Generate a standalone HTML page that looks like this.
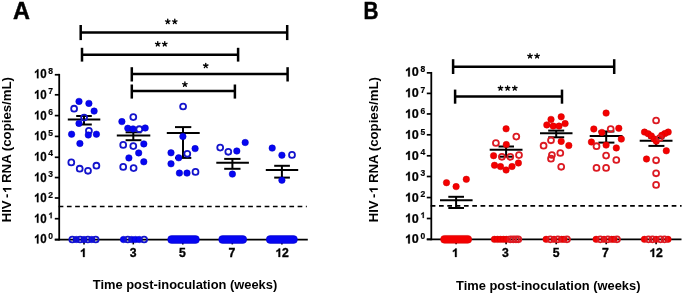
<!DOCTYPE html>
<html><head><meta charset="utf-8"><style>
html,body{margin:0;padding:0;background:#fff;width:685px;height:296px;overflow:hidden;}
svg{display:block;will-change:transform;}
</style></head><body>
<svg width="685" height="296" viewBox="0 0 685 296" font-family='"Liberation Sans", sans-serif' fill="#000">
<rect width="685" height="296" fill="#fff"/>
<text transform="translate(13.0,18.9) scale(0.97,1)" font-size="24.2" font-weight="bold" stroke="#000" stroke-width="0.45">A</text>
<text transform="translate(363.4,18.8) scale(0.87,1)" font-size="23.8" font-weight="bold" stroke="#000" stroke-width="0.5">B</text>
<line x1="59.2" y1="73.85" x2="59.2" y2="240.5" stroke="#000" stroke-width="1.8"/>
<line x1="54.8" y1="239.6" x2="307.8" y2="239.6" stroke="#000" stroke-width="1.8"/>
<line x1="84.0" y1="239.6" x2="84.0" y2="244.4" stroke="#000" stroke-width="1.6"/>
<line x1="133.3" y1="239.6" x2="133.3" y2="244.4" stroke="#000" stroke-width="1.6"/>
<line x1="182.8" y1="239.6" x2="182.8" y2="244.4" stroke="#000" stroke-width="1.6"/>
<line x1="232.3" y1="239.6" x2="232.3" y2="244.4" stroke="#000" stroke-width="1.6"/>
<line x1="281.9" y1="239.6" x2="281.9" y2="244.4" stroke="#000" stroke-width="1.6"/>
<line x1="54.8" y1="74.75" x2="59.2" y2="74.75" stroke="#000" stroke-width="1.7"/>
<path d="M396 0L262 0L262 500C213 455 156 421 90 398L90 518C125 530 163 551 204 582C245 614 273 650 288 688L396 688Z" transform="translate(33.90,78.30) scale(0.01157,-0.01300)" stroke="#000" stroke-width="19.2"/>
<text transform="translate(40.34,78.30) scale(0.89,1)" font-size="13" font-weight="bold" stroke="#000" stroke-width="0.25">0</text>
<text transform="translate(48.35,73.80) scale(1.0,1)" font-size="8.5" font-weight="bold" stroke="#000" stroke-width="0.2">8</text>
<line x1="54.8" y1="94.80" x2="59.2" y2="94.80" stroke="#000" stroke-width="1.7"/>
<path d="M396 0L262 0L262 500C213 455 156 421 90 398L90 518C125 530 163 551 204 582C245 614 273 650 288 688L396 688Z" transform="translate(33.90,98.94) scale(0.01157,-0.01300)" stroke="#000" stroke-width="19.2"/>
<text transform="translate(40.34,98.94) scale(0.89,1)" font-size="13" font-weight="bold" stroke="#000" stroke-width="0.25">0</text>
<text transform="translate(48.35,94.44) scale(1.0,1)" font-size="8.5" font-weight="bold" stroke="#000" stroke-width="0.2">7</text>
<line x1="54.8" y1="115.60" x2="59.2" y2="115.60" stroke="#000" stroke-width="1.7"/>
<path d="M396 0L262 0L262 500C213 455 156 421 90 398L90 518C125 530 163 551 204 582C245 614 273 650 288 688L396 688Z" transform="translate(33.90,119.58) scale(0.01157,-0.01300)" stroke="#000" stroke-width="19.2"/>
<text transform="translate(40.34,119.58) scale(0.89,1)" font-size="13" font-weight="bold" stroke="#000" stroke-width="0.25">0</text>
<text transform="translate(48.35,115.08) scale(1.0,1)" font-size="8.5" font-weight="bold" stroke="#000" stroke-width="0.2">6</text>
<line x1="54.8" y1="136.40" x2="59.2" y2="136.40" stroke="#000" stroke-width="1.7"/>
<path d="M396 0L262 0L262 500C213 455 156 421 90 398L90 518C125 530 163 551 204 582C245 614 273 650 288 688L396 688Z" transform="translate(33.90,140.22) scale(0.01157,-0.01300)" stroke="#000" stroke-width="19.2"/>
<text transform="translate(40.34,140.22) scale(0.89,1)" font-size="13" font-weight="bold" stroke="#000" stroke-width="0.25">0</text>
<text transform="translate(48.35,135.72) scale(1.0,1)" font-size="8.5" font-weight="bold" stroke="#000" stroke-width="0.2">5</text>
<line x1="54.8" y1="157.30" x2="59.2" y2="157.30" stroke="#000" stroke-width="1.7"/>
<path d="M396 0L262 0L262 500C213 455 156 421 90 398L90 518C125 530 163 551 204 582C245 614 273 650 288 688L396 688Z" transform="translate(33.90,160.86) scale(0.01157,-0.01300)" stroke="#000" stroke-width="19.2"/>
<text transform="translate(40.34,160.86) scale(0.89,1)" font-size="13" font-weight="bold" stroke="#000" stroke-width="0.25">0</text>
<text transform="translate(48.35,156.36) scale(1.0,1)" font-size="8.5" font-weight="bold" stroke="#000" stroke-width="0.2">4</text>
<line x1="54.8" y1="177.55" x2="59.2" y2="177.55" stroke="#000" stroke-width="1.7"/>
<path d="M396 0L262 0L262 500C213 455 156 421 90 398L90 518C125 530 163 551 204 582C245 614 273 650 288 688L396 688Z" transform="translate(33.90,181.50) scale(0.01157,-0.01300)" stroke="#000" stroke-width="19.2"/>
<text transform="translate(40.34,181.50) scale(0.89,1)" font-size="13" font-weight="bold" stroke="#000" stroke-width="0.25">0</text>
<text transform="translate(48.35,177.00) scale(1.0,1)" font-size="8.5" font-weight="bold" stroke="#000" stroke-width="0.2">3</text>
<line x1="54.8" y1="198.00" x2="59.2" y2="198.00" stroke="#000" stroke-width="1.7"/>
<path d="M396 0L262 0L262 500C213 455 156 421 90 398L90 518C125 530 163 551 204 582C245 614 273 650 288 688L396 688Z" transform="translate(33.90,202.14) scale(0.01157,-0.01300)" stroke="#000" stroke-width="19.2"/>
<text transform="translate(40.34,202.14) scale(0.89,1)" font-size="13" font-weight="bold" stroke="#000" stroke-width="0.25">0</text>
<text transform="translate(48.35,197.64) scale(1.0,1)" font-size="8.5" font-weight="bold" stroke="#000" stroke-width="0.2">2</text>
<line x1="54.8" y1="218.70" x2="59.2" y2="218.70" stroke="#000" stroke-width="1.7"/>
<path d="M396 0L262 0L262 500C213 455 156 421 90 398L90 518C125 530 163 551 204 582C245 614 273 650 288 688L396 688Z" transform="translate(33.90,222.78) scale(0.01157,-0.01300)" stroke="#000" stroke-width="19.2"/>
<text transform="translate(40.34,222.78) scale(0.89,1)" font-size="13" font-weight="bold" stroke="#000" stroke-width="0.25">0</text>
<path d="M396 0L262 0L262 500C213 455 156 421 90 398L90 518C125 530 163 551 204 582C245 614 273 650 288 688L396 688Z" transform="translate(48.35,218.28) scale(0.00850,-0.00850)" stroke="#000" stroke-width="23.5"/>
<line x1="54.8" y1="239.60" x2="59.2" y2="239.60" stroke="#000" stroke-width="1.7"/>
<path d="M396 0L262 0L262 500C213 455 156 421 90 398L90 518C125 530 163 551 204 582C245 614 273 650 288 688L396 688Z" transform="translate(33.90,243.42) scale(0.01157,-0.01300)" stroke="#000" stroke-width="19.2"/>
<text transform="translate(40.34,243.42) scale(0.89,1)" font-size="13" font-weight="bold" stroke="#000" stroke-width="0.25">0</text>
<text transform="translate(48.35,238.92) scale(1.0,1)" font-size="8.5" font-weight="bold" stroke="#000" stroke-width="0.2">0</text>
<line x1="58.66" y1="206.5" x2="306.8" y2="206.5" stroke="#000" stroke-width="1.7" stroke-dasharray="4.7 3.54"/>
<path d="M396 0L262 0L262 500C213 455 156 421 90 398L90 518C125 530 163 551 204 582C245 614 273 650 288 688L396 688Z" transform="translate(79.81,256.90) scale(0.01220,-0.01220)" stroke="#000" stroke-width="28.7"/>
<text transform="translate(129.81,256.90) scale(1.0,1)" font-size="12.2" font-weight="bold" stroke="#000" stroke-width="0.35">3</text>
<text transform="translate(179.11,256.90) scale(1.0,1)" font-size="12.2" font-weight="bold" stroke="#000" stroke-width="0.35">5</text>
<text transform="translate(228.41,256.90) scale(1.0,1)" font-size="12.2" font-weight="bold" stroke="#000" stroke-width="0.35">7</text>
<path d="M396 0L262 0L262 500C213 455 156 421 90 398L90 518C125 530 163 551 204 582C245 614 273 650 288 688L396 688Z" transform="translate(275.32,256.90) scale(0.01220,-0.01220)" stroke="#000" stroke-width="28.7"/>
<text transform="translate(282.10,256.90) scale(1.0,1)" font-size="12.2" font-weight="bold" stroke="#000" stroke-width="0.35">2</text>
<text x="92.85" y="288.5" font-size="13.4" font-weight="bold" textLength="184.4" lengthAdjust="spacingAndGlyphs">Time post-inoculation (weeks)</text>
<g transform="translate(11.4,222.2) rotate(-90)"><text x="0" y="0" font-size="12.4" font-weight="bold" textLength="21.79" lengthAdjust="spacingAndGlyphs">HIV</text><text x="24.23" y="0" font-size="12.4" font-weight="bold" textLength="4.35" lengthAdjust="spacingAndGlyphs">-</text><path d="M396 0L262 0L262 500C213 455 156 421 90 398L90 518C125 530 163 551 204 582C245 614 273 650 288 688L396 688Z" transform="translate(28.98,0) scale(0.01307,-0.01240)"/><text x="39.28" y="0" font-size="12.4" font-weight="bold" textLength="105.92" lengthAdjust="spacingAndGlyphs">RNA (copies/mL)</text></g>
<line x1="80.7" y1="32.4" x2="287.2" y2="32.4" stroke="#000" stroke-width="2.5"/>
<line x1="80.7" y1="25.0" x2="80.7" y2="40.1" stroke="#000" stroke-width="2.5"/>
<line x1="287.2" y1="25.0" x2="287.2" y2="40.1" stroke="#000" stroke-width="2.5"/>
<path d="M167.75 21.63L167.75 19.28M167.75 21.63L169.98 20.90M167.75 21.63L169.13 23.53M167.75 21.63L166.37 23.53M167.75 21.63L165.52 20.90" stroke="#000" stroke-width="1.35" stroke-linecap="round" fill="none"/>
<path d="M174.80 21.63L174.80 19.28M174.80 21.63L177.03 20.90M174.80 21.63L176.18 23.53M174.80 21.63L173.42 23.53M174.80 21.63L172.57 20.90" stroke="#000" stroke-width="1.35" stroke-linecap="round" fill="none"/>
<line x1="82.0" y1="54.7" x2="238.1" y2="54.7" stroke="#000" stroke-width="2.5"/>
<line x1="82.0" y1="47.8" x2="82.0" y2="61.6" stroke="#000" stroke-width="2.5"/>
<line x1="238.1" y1="47.8" x2="238.1" y2="61.6" stroke="#000" stroke-width="2.5"/>
<path d="M157.75 44.02L157.75 41.67M157.75 44.02L159.98 43.30M157.75 44.02L159.13 45.93M157.75 44.02L156.37 45.93M157.75 44.02L155.52 43.30" stroke="#000" stroke-width="1.35" stroke-linecap="round" fill="none"/>
<path d="M164.75 44.02L164.75 41.67M164.75 44.02L166.98 43.30M164.75 44.02L166.13 45.93M164.75 44.02L163.37 45.93M164.75 44.02L162.52 43.30" stroke="#000" stroke-width="1.35" stroke-linecap="round" fill="none"/>
<line x1="131.8" y1="74.1" x2="287.6" y2="74.1" stroke="#000" stroke-width="2.5"/>
<line x1="131.8" y1="67.2" x2="131.8" y2="81.5" stroke="#000" stroke-width="2.5"/>
<line x1="287.6" y1="67.2" x2="287.6" y2="81.5" stroke="#000" stroke-width="2.5"/>
<path d="M205.75 65.72L205.75 63.37M205.75 65.72L207.98 65.00M205.75 65.72L207.13 67.63M205.75 65.72L204.37 67.63M205.75 65.72L203.52 65.00" stroke="#000" stroke-width="1.35" stroke-linecap="round" fill="none"/>
<line x1="131.8" y1="91.1" x2="234.9" y2="91.1" stroke="#000" stroke-width="2.5"/>
<line x1="131.8" y1="84.5" x2="131.8" y2="98.6" stroke="#000" stroke-width="2.5"/>
<line x1="234.9" y1="84.5" x2="234.9" y2="98.6" stroke="#000" stroke-width="2.5"/>
<path d="M184.90 84.32L184.90 81.97M184.90 84.32L187.13 83.60M184.90 84.32L186.28 86.23M184.90 84.32L183.52 86.23M184.90 84.32L182.67 83.60" stroke="#000" stroke-width="1.35" stroke-linecap="round" fill="none"/>
<circle cx="76.2" cy="239.5" r="3.25" fill="#0606f2" stroke="#0000c0" stroke-width="0.5"/>
<circle cx="84.0" cy="239.5" r="3.25" fill="#0606f2" stroke="#0000c0" stroke-width="0.5"/>
<circle cx="91.8" cy="239.5" r="3.25" fill="#0606f2" stroke="#0000c0" stroke-width="0.5"/>
<circle cx="72.3" cy="239.5" r="2.95" fill="none" stroke="#1414cc" stroke-width="1.8"/>
<circle cx="80.1" cy="239.5" r="2.95" fill="none" stroke="#1414cc" stroke-width="1.8"/>
<circle cx="87.9" cy="239.5" r="2.95" fill="none" stroke="#1414cc" stroke-width="1.8"/>
<circle cx="95.7" cy="239.5" r="2.95" fill="none" stroke="#1414cc" stroke-width="1.8"/>
<circle cx="123.5" cy="239.5" r="3.25" fill="#0606f2" stroke="#0000c0" stroke-width="0.5"/>
<circle cx="131.6" cy="239.5" r="3.25" fill="#0606f2" stroke="#0000c0" stroke-width="0.5"/>
<circle cx="135.4" cy="239.5" r="3.25" fill="#0606f2" stroke="#0000c0" stroke-width="0.5"/>
<circle cx="139.2" cy="239.5" r="3.25" fill="#0606f2" stroke="#0000c0" stroke-width="0.5"/>
<circle cx="127.8" cy="239.5" r="2.95" fill="none" stroke="#1414cc" stroke-width="1.8"/>
<circle cx="144.1" cy="239.5" r="2.95" fill="none" stroke="#1414cc" stroke-width="1.8"/>
<rect x="167.65" y="235.6" width="31.799999999999983" height="7.8" rx="3.9" ry="3.9" fill="#0606f2" stroke="#0000c0" stroke-width="0.5"/>
<rect x="218.65" y="235.6" width="28.099999999999994" height="7.8" rx="3.9" ry="3.9" fill="#0606f2" stroke="#0000c0" stroke-width="0.5"/>
<rect x="266.25" y="235.6" width="31.19999999999999" height="7.8" rx="3.9" ry="3.9" fill="#0606f2" stroke="#0000c0" stroke-width="0.5"/>
<line x1="84.0" y1="116.0" x2="84.0" y2="124.5" stroke="#000" stroke-width="2"/>
<line x1="76.2" y1="116.0" x2="91.8" y2="116.0" stroke="#000" stroke-width="2"/>
<line x1="76.2" y1="124.5" x2="91.8" y2="124.5" stroke="#000" stroke-width="2"/>
<line x1="67.8" y1="119.6" x2="100.3" y2="119.6" stroke="#000" stroke-width="2"/>
<line x1="133.3" y1="132.3" x2="133.3" y2="140.2" stroke="#000" stroke-width="2"/>
<line x1="125.6" y1="132.3" x2="141.4" y2="132.3" stroke="#000" stroke-width="2"/>
<line x1="125.6" y1="140.2" x2="141.4" y2="140.2" stroke="#000" stroke-width="2"/>
<line x1="116.8" y1="135.4" x2="150.3" y2="135.4" stroke="#000" stroke-width="2"/>
<line x1="183.0" y1="127.1" x2="183.0" y2="157.9" stroke="#000" stroke-width="2"/>
<line x1="175.0" y1="127.1" x2="191.3" y2="127.1" stroke="#000" stroke-width="2"/>
<line x1="175.0" y1="157.9" x2="191.3" y2="157.9" stroke="#000" stroke-width="2"/>
<line x1="166.8" y1="133.0" x2="199.7" y2="133.0" stroke="#000" stroke-width="2"/>
<line x1="232.4" y1="158.9" x2="232.4" y2="168.8" stroke="#000" stroke-width="2"/>
<line x1="224.2" y1="158.9" x2="240.5" y2="158.9" stroke="#000" stroke-width="2"/>
<line x1="224.2" y1="168.8" x2="240.5" y2="168.8" stroke="#000" stroke-width="2"/>
<line x1="216.3" y1="162.8" x2="248.9" y2="162.8" stroke="#000" stroke-width="2"/>
<line x1="281.9" y1="165.8" x2="281.9" y2="177.6" stroke="#000" stroke-width="2"/>
<line x1="274.2" y1="165.8" x2="289.9" y2="165.8" stroke="#000" stroke-width="2"/>
<line x1="274.2" y1="177.6" x2="289.9" y2="177.6" stroke="#000" stroke-width="2"/>
<line x1="265.8" y1="169.9" x2="298.2" y2="169.9" stroke="#000" stroke-width="2"/>
<circle cx="79.0" cy="101.4" r="3.25" fill="#0606f2" stroke="#0000c0" stroke-width="0.5"/>
<circle cx="88.9" cy="103.4" r="3.25" fill="#0606f2" stroke="#0000c0" stroke-width="0.5"/>
<circle cx="74.1" cy="108.7" r="2.95" fill="none" stroke="#1414cc" stroke-width="1.8"/>
<circle cx="94.1" cy="111.1" r="3.25" fill="#0606f2" stroke="#0000c0" stroke-width="0.5"/>
<circle cx="84.1" cy="117.6" r="2.95" fill="none" stroke="#1414cc" stroke-width="1.8"/>
<circle cx="79.0" cy="123.4" r="3.25" fill="#0606f2" stroke="#0000c0" stroke-width="0.5"/>
<circle cx="71.6" cy="134.2" r="3.25" fill="#0606f2" stroke="#0000c0" stroke-width="0.5"/>
<circle cx="88.9" cy="130.8" r="2.95" fill="none" stroke="#1414cc" stroke-width="1.8"/>
<circle cx="88.3" cy="135.0" r="3.25" fill="#0606f2" stroke="#0000c0" stroke-width="0.5"/>
<circle cx="96.4" cy="134.2" r="3.25" fill="#0606f2" stroke="#0000c0" stroke-width="0.5"/>
<circle cx="79.9" cy="143.5" r="3.25" fill="#0606f2" stroke="#0000c0" stroke-width="0.5"/>
<circle cx="71.3" cy="162.4" r="2.95" fill="none" stroke="#1414cc" stroke-width="1.8"/>
<circle cx="79.7" cy="168.7" r="2.95" fill="none" stroke="#1414cc" stroke-width="1.8"/>
<circle cx="88.0" cy="170.8" r="2.95" fill="none" stroke="#1414cc" stroke-width="1.8"/>
<circle cx="96.4" cy="165.7" r="2.95" fill="none" stroke="#1414cc" stroke-width="1.8"/>
<circle cx="133.3" cy="117.1" r="2.95" fill="none" stroke="#1414cc" stroke-width="1.8"/>
<circle cx="121.9" cy="121.6" r="3.25" fill="#0606f2" stroke="#0000c0" stroke-width="0.5"/>
<circle cx="127.8" cy="128.3" r="3.25" fill="#0606f2" stroke="#0000c0" stroke-width="0.5"/>
<circle cx="133.0" cy="128.9" r="3.25" fill="#0606f2" stroke="#0000c0" stroke-width="0.5"/>
<circle cx="139.3" cy="129.2" r="2.95" fill="none" stroke="#1414cc" stroke-width="1.8"/>
<circle cx="145.2" cy="128.0" r="3.25" fill="#0606f2" stroke="#0000c0" stroke-width="0.5"/>
<circle cx="123.2" cy="144.9" r="2.95" fill="none" stroke="#1414cc" stroke-width="1.8"/>
<circle cx="133.3" cy="146.1" r="2.95" fill="none" stroke="#1414cc" stroke-width="1.8"/>
<circle cx="143.8" cy="143.9" r="3.25" fill="#0606f2" stroke="#0000c0" stroke-width="0.5"/>
<circle cx="138.7" cy="152.9" r="3.25" fill="#0606f2" stroke="#0000c0" stroke-width="0.5"/>
<circle cx="128.9" cy="157.9" r="3.25" fill="#0606f2" stroke="#0000c0" stroke-width="0.5"/>
<circle cx="143.8" cy="161.8" r="3.25" fill="#0606f2" stroke="#0000c0" stroke-width="0.5"/>
<circle cx="123.2" cy="166.9" r="2.95" fill="none" stroke="#1414cc" stroke-width="1.8"/>
<circle cx="133.6" cy="168.1" r="2.95" fill="none" stroke="#1414cc" stroke-width="1.8"/>
<circle cx="183.1" cy="106.5" r="2.95" fill="none" stroke="#1414cc" stroke-width="1.8"/>
<circle cx="182.9" cy="136.5" r="3.25" fill="#0606f2" stroke="#0000c0" stroke-width="0.5"/>
<circle cx="171.0" cy="152.8" r="3.25" fill="#0606f2" stroke="#0000c0" stroke-width="0.5"/>
<circle cx="195.1" cy="148.6" r="3.25" fill="#0606f2" stroke="#0000c0" stroke-width="0.5"/>
<circle cx="187.3" cy="153.8" r="2.95" fill="none" stroke="#1414cc" stroke-width="1.8"/>
<circle cx="178.7" cy="157.8" r="3.25" fill="#0606f2" stroke="#0000c0" stroke-width="0.5"/>
<circle cx="171.0" cy="163.8" r="3.25" fill="#0606f2" stroke="#0000c0" stroke-width="0.5"/>
<circle cx="179.4" cy="173.1" r="3.25" fill="#0606f2" stroke="#0000c0" stroke-width="0.5"/>
<circle cx="187.0" cy="173.1" r="3.25" fill="#0606f2" stroke="#0000c0" stroke-width="0.5"/>
<circle cx="195.5" cy="171.9" r="2.95" fill="none" stroke="#1414cc" stroke-width="1.8"/>
<circle cx="245.2" cy="142.5" r="3.25" fill="#0606f2" stroke="#0000c0" stroke-width="0.5"/>
<circle cx="220.2" cy="147.6" r="2.95" fill="none" stroke="#1414cc" stroke-width="1.8"/>
<circle cx="228.3" cy="151.8" r="2.95" fill="none" stroke="#1414cc" stroke-width="1.8"/>
<circle cx="236.8" cy="151.0" r="3.25" fill="#0606f2" stroke="#0000c0" stroke-width="0.5"/>
<circle cx="232.4" cy="174.1" r="3.25" fill="#0606f2" stroke="#0000c0" stroke-width="0.5"/>
<circle cx="272.2" cy="148.1" r="3.25" fill="#0606f2" stroke="#0000c0" stroke-width="0.5"/>
<circle cx="281.9" cy="155.2" r="3.25" fill="#0606f2" stroke="#0000c0" stroke-width="0.5"/>
<circle cx="292.0" cy="154.9" r="2.95" fill="none" stroke="#1414cc" stroke-width="1.8"/>
<circle cx="281.9" cy="180.2" r="3.25" fill="#0606f2" stroke="#0000c0" stroke-width="0.5"/>
<line x1="431.3" y1="71.94999999999999" x2="431.3" y2="240.25" stroke="#000" stroke-width="1.8"/>
<line x1="426.8" y1="239.35" x2="681.5" y2="239.35" stroke="#000" stroke-width="1.8"/>
<line x1="456.1" y1="239.35" x2="456.1" y2="244.15" stroke="#000" stroke-width="1.6"/>
<line x1="506.1" y1="239.35" x2="506.1" y2="244.15" stroke="#000" stroke-width="1.6"/>
<line x1="556.2" y1="239.35" x2="556.2" y2="244.15" stroke="#000" stroke-width="1.6"/>
<line x1="606.2" y1="239.35" x2="606.2" y2="244.15" stroke="#000" stroke-width="1.6"/>
<line x1="656.1" y1="239.35" x2="656.1" y2="244.15" stroke="#000" stroke-width="1.6"/>
<line x1="426.8" y1="72.85" x2="431.3" y2="72.85" stroke="#000" stroke-width="1.7"/>
<path d="M396 0L262 0L262 500C213 455 156 421 90 398L90 518C125 530 163 551 204 582C245 614 273 650 288 688L396 688Z" transform="translate(404.85,76.40) scale(0.01261,-0.01300)" stroke="#000" stroke-width="19.2"/>
<text transform="translate(411.86,76.40) scale(0.97,1)" font-size="13" font-weight="bold" stroke="#000" stroke-width="0.25">0</text>
<text transform="translate(420.45,71.90) scale(1.0,1)" font-size="8.5" font-weight="bold" stroke="#000" stroke-width="0.2">8</text>
<line x1="426.8" y1="93.40" x2="431.3" y2="93.40" stroke="#000" stroke-width="1.7"/>
<path d="M396 0L262 0L262 500C213 455 156 421 90 398L90 518C125 530 163 551 204 582C245 614 273 650 288 688L396 688Z" transform="translate(404.85,97.28) scale(0.01261,-0.01300)" stroke="#000" stroke-width="19.2"/>
<text transform="translate(411.86,97.28) scale(0.97,1)" font-size="13" font-weight="bold" stroke="#000" stroke-width="0.25">0</text>
<text transform="translate(420.45,92.78) scale(1.0,1)" font-size="8.5" font-weight="bold" stroke="#000" stroke-width="0.2">7</text>
<line x1="426.8" y1="113.95" x2="431.3" y2="113.95" stroke="#000" stroke-width="1.7"/>
<path d="M396 0L262 0L262 500C213 455 156 421 90 398L90 518C125 530 163 551 204 582C245 614 273 650 288 688L396 688Z" transform="translate(404.85,118.15) scale(0.01261,-0.01300)" stroke="#000" stroke-width="19.2"/>
<text transform="translate(411.86,118.15) scale(0.97,1)" font-size="13" font-weight="bold" stroke="#000" stroke-width="0.25">0</text>
<text transform="translate(420.45,113.65) scale(1.0,1)" font-size="8.5" font-weight="bold" stroke="#000" stroke-width="0.2">6</text>
<line x1="426.8" y1="134.80" x2="431.3" y2="134.80" stroke="#000" stroke-width="1.7"/>
<path d="M396 0L262 0L262 500C213 455 156 421 90 398L90 518C125 530 163 551 204 582C245 614 273 650 288 688L396 688Z" transform="translate(404.85,139.03) scale(0.01261,-0.01300)" stroke="#000" stroke-width="19.2"/>
<text transform="translate(411.86,139.03) scale(0.97,1)" font-size="13" font-weight="bold" stroke="#000" stroke-width="0.25">0</text>
<text transform="translate(420.45,134.53) scale(1.0,1)" font-size="8.5" font-weight="bold" stroke="#000" stroke-width="0.2">5</text>
<line x1="426.8" y1="155.80" x2="431.3" y2="155.80" stroke="#000" stroke-width="1.7"/>
<path d="M396 0L262 0L262 500C213 455 156 421 90 398L90 518C125 530 163 551 204 582C245 614 273 650 288 688L396 688Z" transform="translate(404.85,159.90) scale(0.01261,-0.01300)" stroke="#000" stroke-width="19.2"/>
<text transform="translate(411.86,159.90) scale(0.97,1)" font-size="13" font-weight="bold" stroke="#000" stroke-width="0.25">0</text>
<text transform="translate(420.45,155.40) scale(1.0,1)" font-size="8.5" font-weight="bold" stroke="#000" stroke-width="0.2">4</text>
<line x1="426.8" y1="176.50" x2="431.3" y2="176.50" stroke="#000" stroke-width="1.7"/>
<path d="M396 0L262 0L262 500C213 455 156 421 90 398L90 518C125 530 163 551 204 582C245 614 273 650 288 688L396 688Z" transform="translate(404.85,180.78) scale(0.01261,-0.01300)" stroke="#000" stroke-width="19.2"/>
<text transform="translate(411.86,180.78) scale(0.97,1)" font-size="13" font-weight="bold" stroke="#000" stroke-width="0.25">0</text>
<text transform="translate(420.45,176.28) scale(1.0,1)" font-size="8.5" font-weight="bold" stroke="#000" stroke-width="0.2">3</text>
<line x1="426.8" y1="197.55" x2="431.3" y2="197.55" stroke="#000" stroke-width="1.7"/>
<path d="M396 0L262 0L262 500C213 455 156 421 90 398L90 518C125 530 163 551 204 582C245 614 273 650 288 688L396 688Z" transform="translate(404.85,201.65) scale(0.01261,-0.01300)" stroke="#000" stroke-width="19.2"/>
<text transform="translate(411.86,201.65) scale(0.97,1)" font-size="13" font-weight="bold" stroke="#000" stroke-width="0.25">0</text>
<text transform="translate(420.45,197.15) scale(1.0,1)" font-size="8.5" font-weight="bold" stroke="#000" stroke-width="0.2">2</text>
<line x1="426.8" y1="218.50" x2="431.3" y2="218.50" stroke="#000" stroke-width="1.7"/>
<path d="M396 0L262 0L262 500C213 455 156 421 90 398L90 518C125 530 163 551 204 582C245 614 273 650 288 688L396 688Z" transform="translate(404.85,222.53) scale(0.01261,-0.01300)" stroke="#000" stroke-width="19.2"/>
<text transform="translate(411.86,222.53) scale(0.97,1)" font-size="13" font-weight="bold" stroke="#000" stroke-width="0.25">0</text>
<path d="M396 0L262 0L262 500C213 455 156 421 90 398L90 518C125 530 163 551 204 582C245 614 273 650 288 688L396 688Z" transform="translate(420.45,218.03) scale(0.00850,-0.00850)" stroke="#000" stroke-width="23.5"/>
<line x1="426.8" y1="239.35" x2="431.3" y2="239.35" stroke="#000" stroke-width="1.7"/>
<path d="M396 0L262 0L262 500C213 455 156 421 90 398L90 518C125 530 163 551 204 582C245 614 273 650 288 688L396 688Z" transform="translate(404.85,243.40) scale(0.01261,-0.01300)" stroke="#000" stroke-width="19.2"/>
<text transform="translate(411.86,243.40) scale(0.97,1)" font-size="13" font-weight="bold" stroke="#000" stroke-width="0.25">0</text>
<text transform="translate(420.45,238.90) scale(1.0,1)" font-size="8.5" font-weight="bold" stroke="#000" stroke-width="0.2">0</text>
<line x1="430.69" y1="205.95" x2="681.6" y2="205.95" stroke="#000" stroke-width="1.7" stroke-dasharray="4.7 3.61"/>
<path d="M396 0L262 0L262 500C213 455 156 421 90 398L90 518C125 530 163 551 204 582C245 614 273 650 288 688L396 688Z" transform="translate(451.81,256.90) scale(0.01220,-0.01220)" stroke="#000" stroke-width="28.7"/>
<text transform="translate(501.91,256.90) scale(1.0,1)" font-size="12.2" font-weight="bold" stroke="#000" stroke-width="0.35">3</text>
<text transform="translate(552.71,256.90) scale(1.0,1)" font-size="12.2" font-weight="bold" stroke="#000" stroke-width="0.35">5</text>
<text transform="translate(602.11,256.90) scale(1.0,1)" font-size="12.2" font-weight="bold" stroke="#000" stroke-width="0.35">7</text>
<path d="M396 0L262 0L262 500C213 455 156 421 90 398L90 518C125 530 163 551 204 582C245 614 273 650 288 688L396 688Z" transform="translate(649.32,256.90) scale(0.01220,-0.01220)" stroke="#000" stroke-width="28.7"/>
<text transform="translate(656.10,256.90) scale(1.0,1)" font-size="12.2" font-weight="bold" stroke="#000" stroke-width="0.35">2</text>
<text x="456.05" y="290.1" font-size="13.4" font-weight="bold" textLength="184.4" lengthAdjust="spacingAndGlyphs">Time post-inoculation (weeks)</text>
<g transform="translate(377.8,222.3) rotate(-90)"><text x="0" y="0" font-size="12.4" font-weight="bold" textLength="21.79" lengthAdjust="spacingAndGlyphs">HIV</text><text x="24.23" y="0" font-size="12.4" font-weight="bold" textLength="4.35" lengthAdjust="spacingAndGlyphs">-</text><path d="M396 0L262 0L262 500C213 455 156 421 90 398L90 518C125 530 163 551 204 582C245 614 273 650 288 688L396 688Z" transform="translate(28.98,0) scale(0.01307,-0.01240)"/><text x="39.28" y="0" font-size="12.4" font-weight="bold" textLength="105.92" lengthAdjust="spacingAndGlyphs">RNA (copies/mL)</text></g>
<line x1="453.1" y1="66.7" x2="614.2" y2="66.7" stroke="#000" stroke-width="2.5"/>
<line x1="453.1" y1="59.2" x2="453.1" y2="74.0" stroke="#000" stroke-width="2.5"/>
<line x1="614.2" y1="59.2" x2="614.2" y2="74.0" stroke="#000" stroke-width="2.5"/>
<path d="M530.00 56.02L530.00 53.67M530.00 56.02L532.23 55.30M530.00 56.02L531.38 57.93M530.00 56.02L528.62 57.93M530.00 56.02L527.77 55.30" stroke="#000" stroke-width="1.35" stroke-linecap="round" fill="none"/>
<path d="M537.10 56.02L537.10 53.67M537.10 56.02L539.33 55.30M537.10 56.02L538.48 57.93M537.10 56.02L535.72 57.93M537.10 56.02L534.87 55.30" stroke="#000" stroke-width="1.35" stroke-linecap="round" fill="none"/>
<line x1="455.1" y1="96.6" x2="562.0" y2="96.6" stroke="#000" stroke-width="2.5"/>
<line x1="455.1" y1="89.6" x2="455.1" y2="103.7" stroke="#000" stroke-width="2.5"/>
<line x1="562.0" y1="89.6" x2="562.0" y2="103.7" stroke="#000" stroke-width="2.5"/>
<path d="M500.50 88.22L500.50 85.88M500.50 88.22L502.73 87.50M500.50 88.22L501.88 90.13M500.50 88.22L499.12 90.13M500.50 88.22L498.27 87.50" stroke="#000" stroke-width="1.35" stroke-linecap="round" fill="none"/>
<path d="M507.60 88.22L507.60 85.88M507.60 88.22L509.83 87.50M507.60 88.22L508.98 90.13M507.60 88.22L506.22 90.13M507.60 88.22L505.37 87.50" stroke="#000" stroke-width="1.35" stroke-linecap="round" fill="none"/>
<path d="M514.80 88.22L514.80 85.88M514.80 88.22L517.03 87.50M514.80 88.22L516.18 90.13M514.80 88.22L513.42 90.13M514.80 88.22L512.57 87.50" stroke="#000" stroke-width="1.35" stroke-linecap="round" fill="none"/>
<rect x="440.55" y="235.45" width="31.19999999999999" height="7.8" rx="3.9" ry="3.9" fill="#f40000" stroke="#cc0000" stroke-width="0.5"/>
<circle cx="494.4" cy="239.35" r="3.25" fill="#f40000" stroke="#cc0000" stroke-width="0.5"/>
<circle cx="497.5" cy="239.35" r="3.25" fill="#f40000" stroke="#cc0000" stroke-width="0.5"/>
<circle cx="500.5" cy="239.35" r="3.25" fill="#f40000" stroke="#cc0000" stroke-width="0.5"/>
<circle cx="503.5" cy="239.35" r="3.25" fill="#f40000" stroke="#cc0000" stroke-width="0.5"/>
<circle cx="506.5" cy="239.35" r="3.25" fill="#f40000" stroke="#cc0000" stroke-width="0.5"/>
<circle cx="510.5" cy="239.35" r="2.95" fill="none" stroke="#dc1a22" stroke-width="1.8"/>
<circle cx="513.3" cy="239.35" r="2.95" fill="none" stroke="#dc1a22" stroke-width="1.8"/>
<circle cx="516.0" cy="239.35" r="2.95" fill="none" stroke="#dc1a22" stroke-width="1.8"/>
<circle cx="518.3" cy="239.35" r="2.95" fill="none" stroke="#dc1a22" stroke-width="1.8"/>
<circle cx="546.1" cy="239.35" r="3.25" fill="#f40000" stroke="#cc0000" stroke-width="0.5"/>
<circle cx="554.0" cy="239.35" r="3.25" fill="#f40000" stroke="#cc0000" stroke-width="0.5"/>
<circle cx="561.5" cy="239.35" r="3.25" fill="#f40000" stroke="#cc0000" stroke-width="0.5"/>
<circle cx="564.0" cy="239.35" r="3.25" fill="#f40000" stroke="#cc0000" stroke-width="0.5"/>
<circle cx="550.3" cy="239.35" r="2.95" fill="none" stroke="#dc1a22" stroke-width="1.8"/>
<circle cx="557.9" cy="239.35" r="2.95" fill="none" stroke="#dc1a22" stroke-width="1.8"/>
<circle cx="567.0" cy="239.35" r="2.95" fill="none" stroke="#dc1a22" stroke-width="1.8"/>
<circle cx="596.1" cy="239.35" r="3.25" fill="#f40000" stroke="#cc0000" stroke-width="0.5"/>
<circle cx="604.0" cy="239.35" r="3.25" fill="#f40000" stroke="#cc0000" stroke-width="0.5"/>
<circle cx="611.5" cy="239.35" r="3.25" fill="#f40000" stroke="#cc0000" stroke-width="0.5"/>
<circle cx="614.0" cy="239.35" r="3.25" fill="#f40000" stroke="#cc0000" stroke-width="0.5"/>
<circle cx="600.3" cy="239.35" r="2.95" fill="none" stroke="#dc1a22" stroke-width="1.8"/>
<circle cx="607.9" cy="239.35" r="2.95" fill="none" stroke="#dc1a22" stroke-width="1.8"/>
<circle cx="617.0" cy="239.35" r="2.95" fill="none" stroke="#dc1a22" stroke-width="1.8"/>
<circle cx="644.4" cy="239.35" r="3.25" fill="#f40000" stroke="#cc0000" stroke-width="0.5"/>
<circle cx="656.1" cy="239.35" r="3.25" fill="#f40000" stroke="#cc0000" stroke-width="0.5"/>
<circle cx="668.0" cy="239.35" r="3.25" fill="#f40000" stroke="#cc0000" stroke-width="0.5"/>
<circle cx="648.5" cy="239.35" r="2.95" fill="none" stroke="#dc1a22" stroke-width="1.8"/>
<circle cx="652.5" cy="239.35" r="2.95" fill="none" stroke="#dc1a22" stroke-width="1.8"/>
<circle cx="660.5" cy="239.35" r="2.95" fill="none" stroke="#dc1a22" stroke-width="1.8"/>
<circle cx="664.5" cy="239.35" r="2.95" fill="none" stroke="#dc1a22" stroke-width="1.8"/>
<line x1="456.1" y1="196.8" x2="456.1" y2="208.0" stroke="#000" stroke-width="2"/>
<line x1="448.3" y1="196.8" x2="464.0" y2="196.8" stroke="#000" stroke-width="2"/>
<line x1="448.3" y1="208.0" x2="464.0" y2="208.0" stroke="#000" stroke-width="2"/>
<line x1="440.0" y1="200.3" x2="472.6" y2="200.3" stroke="#000" stroke-width="2"/>
<line x1="506.1" y1="146.5" x2="506.1" y2="156.7" stroke="#000" stroke-width="2"/>
<line x1="498.5" y1="146.5" x2="514.0" y2="146.5" stroke="#000" stroke-width="2"/>
<line x1="498.5" y1="156.7" x2="514.0" y2="156.7" stroke="#000" stroke-width="2"/>
<line x1="489.7" y1="149.7" x2="522.5" y2="149.7" stroke="#000" stroke-width="2"/>
<line x1="556.2" y1="130.6" x2="556.2" y2="137.3" stroke="#000" stroke-width="2"/>
<line x1="548.2" y1="130.6" x2="564.2" y2="130.6" stroke="#000" stroke-width="2"/>
<line x1="548.2" y1="137.3" x2="564.2" y2="137.3" stroke="#000" stroke-width="2"/>
<line x1="540.0" y1="133.3" x2="572.5" y2="133.3" stroke="#000" stroke-width="2"/>
<line x1="606.2" y1="131.5" x2="606.2" y2="142.6" stroke="#000" stroke-width="2"/>
<line x1="598.4" y1="131.5" x2="614.4" y2="131.5" stroke="#000" stroke-width="2"/>
<line x1="598.4" y1="142.6" x2="614.4" y2="142.6" stroke="#000" stroke-width="2"/>
<line x1="589.7" y1="136.0" x2="622.5" y2="136.0" stroke="#000" stroke-width="2"/>
<line x1="656.1" y1="137.8" x2="656.1" y2="145.9" stroke="#000" stroke-width="2"/>
<line x1="648.4" y1="137.8" x2="664.4" y2="137.8" stroke="#000" stroke-width="2"/>
<line x1="648.4" y1="145.9" x2="664.4" y2="145.9" stroke="#000" stroke-width="2"/>
<line x1="639.7" y1="140.7" x2="672.5" y2="140.7" stroke="#000" stroke-width="2"/>
<circle cx="446.5" cy="182.7" r="3.25" fill="#f40000" stroke="#cc0000" stroke-width="0.5"/>
<circle cx="456.1" cy="186.6" r="3.25" fill="#f40000" stroke="#cc0000" stroke-width="0.5"/>
<circle cx="466.3" cy="179.3" r="3.25" fill="#f40000" stroke="#cc0000" stroke-width="0.5"/>
<circle cx="506.1" cy="128.8" r="3.25" fill="#f40000" stroke="#cc0000" stroke-width="0.5"/>
<circle cx="516.3" cy="136.6" r="2.95" fill="none" stroke="#dc1a22" stroke-width="1.8"/>
<circle cx="495.9" cy="143.0" r="2.95" fill="none" stroke="#dc1a22" stroke-width="1.8"/>
<circle cx="506.3" cy="144.6" r="3.25" fill="#f40000" stroke="#cc0000" stroke-width="0.5"/>
<circle cx="493.6" cy="155.7" r="3.25" fill="#f40000" stroke="#cc0000" stroke-width="0.5"/>
<circle cx="501.9" cy="156.8" r="2.95" fill="none" stroke="#dc1a22" stroke-width="1.8"/>
<circle cx="510.3" cy="156.8" r="2.95" fill="none" stroke="#dc1a22" stroke-width="1.8"/>
<circle cx="519.0" cy="155.1" r="2.95" fill="none" stroke="#dc1a22" stroke-width="1.8"/>
<circle cx="494.5" cy="165.3" r="3.25" fill="#f40000" stroke="#cc0000" stroke-width="0.5"/>
<circle cx="500.5" cy="166.6" r="3.25" fill="#f40000" stroke="#cc0000" stroke-width="0.5"/>
<circle cx="506.1" cy="170.0" r="3.25" fill="#f40000" stroke="#cc0000" stroke-width="0.5"/>
<circle cx="512.0" cy="166.5" r="3.25" fill="#f40000" stroke="#cc0000" stroke-width="0.5"/>
<circle cx="518.4" cy="163.0" r="3.25" fill="#f40000" stroke="#cc0000" stroke-width="0.5"/>
<circle cx="561.2" cy="116.8" r="3.25" fill="#f40000" stroke="#cc0000" stroke-width="0.5"/>
<circle cx="551.0" cy="119.4" r="3.25" fill="#f40000" stroke="#cc0000" stroke-width="0.5"/>
<circle cx="546.8" cy="124.9" r="3.25" fill="#f40000" stroke="#cc0000" stroke-width="0.5"/>
<circle cx="553.2" cy="126.1" r="3.25" fill="#f40000" stroke="#cc0000" stroke-width="0.5"/>
<circle cx="559.0" cy="126.1" r="3.25" fill="#f40000" stroke="#cc0000" stroke-width="0.5"/>
<circle cx="565.1" cy="123.6" r="3.25" fill="#f40000" stroke="#cc0000" stroke-width="0.5"/>
<circle cx="551.0" cy="140.3" r="2.95" fill="none" stroke="#dc1a22" stroke-width="1.8"/>
<circle cx="561.2" cy="141.4" r="3.25" fill="#f40000" stroke="#cc0000" stroke-width="0.5"/>
<circle cx="543.6" cy="145.7" r="2.95" fill="none" stroke="#dc1a22" stroke-width="1.8"/>
<circle cx="568.8" cy="145.5" r="3.25" fill="#f40000" stroke="#cc0000" stroke-width="0.5"/>
<circle cx="551.9" cy="155.0" r="2.95" fill="none" stroke="#dc1a22" stroke-width="1.8"/>
<circle cx="551.0" cy="158.7" r="2.95" fill="none" stroke="#dc1a22" stroke-width="1.8"/>
<circle cx="560.3" cy="153.0" r="2.95" fill="none" stroke="#dc1a22" stroke-width="1.8"/>
<circle cx="561.2" cy="166.8" r="2.95" fill="none" stroke="#dc1a22" stroke-width="1.8"/>
<circle cx="606.1" cy="113.1" r="3.25" fill="#f40000" stroke="#cc0000" stroke-width="0.5"/>
<circle cx="593.8" cy="129.0" r="3.25" fill="#f40000" stroke="#cc0000" stroke-width="0.5"/>
<circle cx="610.7" cy="129.0" r="2.95" fill="none" stroke="#dc1a22" stroke-width="1.8"/>
<circle cx="618.8" cy="128.3" r="3.25" fill="#f40000" stroke="#cc0000" stroke-width="0.5"/>
<circle cx="601.9" cy="132.4" r="3.25" fill="#f40000" stroke="#cc0000" stroke-width="0.5"/>
<circle cx="591.4" cy="142.0" r="3.25" fill="#f40000" stroke="#cc0000" stroke-width="0.5"/>
<circle cx="621.3" cy="139.1" r="3.25" fill="#f40000" stroke="#cc0000" stroke-width="0.5"/>
<circle cx="596.5" cy="146.2" r="2.95" fill="none" stroke="#dc1a22" stroke-width="1.8"/>
<circle cx="606.1" cy="145.1" r="3.25" fill="#f40000" stroke="#cc0000" stroke-width="0.5"/>
<circle cx="616.3" cy="147.9" r="3.25" fill="#f40000" stroke="#cc0000" stroke-width="0.5"/>
<circle cx="606.1" cy="155.6" r="2.95" fill="none" stroke="#dc1a22" stroke-width="1.8"/>
<circle cx="616.3" cy="160.0" r="2.95" fill="none" stroke="#dc1a22" stroke-width="1.8"/>
<circle cx="596.5" cy="167.9" r="2.95" fill="none" stroke="#dc1a22" stroke-width="1.8"/>
<circle cx="606.1" cy="167.9" r="2.95" fill="none" stroke="#dc1a22" stroke-width="1.8"/>
<circle cx="656.1" cy="120.5" r="2.95" fill="none" stroke="#dc1a22" stroke-width="1.8"/>
<circle cx="644.5" cy="132.1" r="3.25" fill="#f40000" stroke="#cc0000" stroke-width="0.5"/>
<circle cx="648.2" cy="133.8" r="3.25" fill="#f40000" stroke="#cc0000" stroke-width="0.5"/>
<circle cx="651.3" cy="135.9" r="3.25" fill="#f40000" stroke="#cc0000" stroke-width="0.5"/>
<circle cx="654.2" cy="139.0" r="3.25" fill="#f40000" stroke="#cc0000" stroke-width="0.5"/>
<circle cx="656.3" cy="141.2" r="3.25" fill="#f40000" stroke="#cc0000" stroke-width="0.5"/>
<circle cx="668.2" cy="132.1" r="3.25" fill="#f40000" stroke="#cc0000" stroke-width="0.5"/>
<circle cx="664.9" cy="133.6" r="3.25" fill="#f40000" stroke="#cc0000" stroke-width="0.5"/>
<circle cx="661.8" cy="135.3" r="3.25" fill="#f40000" stroke="#cc0000" stroke-width="0.5"/>
<circle cx="659.8" cy="138.0" r="2.95" fill="none" stroke="#dc1a22" stroke-width="1.8"/>
<circle cx="666.3" cy="150.8" r="3.25" fill="#f40000" stroke="#cc0000" stroke-width="0.5"/>
<circle cx="646.5" cy="159.0" r="3.25" fill="#f40000" stroke="#cc0000" stroke-width="0.5"/>
<circle cx="656.1" cy="160.3" r="2.95" fill="none" stroke="#dc1a22" stroke-width="1.8"/>
<circle cx="656.1" cy="173.3" r="2.95" fill="none" stroke="#dc1a22" stroke-width="1.8"/>
<circle cx="656.1" cy="184.9" r="2.95" fill="none" stroke="#dc1a22" stroke-width="1.8"/>
</svg>
</body></html>
